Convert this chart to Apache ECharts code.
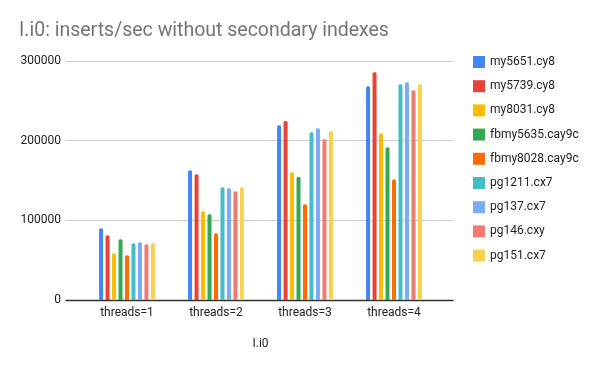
<!DOCTYPE html>
<html>
<head>
<meta charset="utf-8">
<script src="https://cdn.jsdelivr.net/npm/echarts@6/dist/echarts.min.js"></script>
<style>html,body{margin:0;padding:0;background:#fff}#c{width:600px;height:371px}</style>
</head>
<body>
<div id="c"></div>
<script>
var categories = ['threads=1', 'threads=2', 'threads=3', 'threads=4'];
var seriesNames = ['my5651.cy8', 'my5739.cy8', 'my8031.cy8', 'fbmy5635.cay9c', 'fbmy8028.cay9c', 'pg1211.cx7', 'pg137.cx7', 'pg146.cxy', 'pg151.cx7'];
var my5651 = [90000, 162800, 219300, 268200];
var my5739 = [81200, 157800, 224700, 285800];
var my8031 = [58600, 111300, 160300, 209200];
var fbmy5635 = [76200, 107600, 154400, 191700];
var fbmy8028 = [56100, 83700, 120100, 151500];
var pg1211 = [71200, 141500, 210500, 270700];
var pg137 = [72400, 140200, 215500, 273200];
var pg146 = [69900, 136400, 201700, 263200];
var pg151 = [71200, 141500, 211700, 270700];
var seriesValues = [my5651, my5739, my8031, fbmy5635, fbmy8028, pg1211, pg137, pg146, pg151];
var colors = ['#4285F4', '#EA4335', '#FBBC04', '#34A853', '#FF6D01', '#46BDC6', '#7BAAF7', '#F07B72', '#FCD04F'];
var yTicks = [0, 100000, 200000, 300000];

var font = 'Roboto, Arial, sans-serif';
var chart = echarts.init(document.getElementById('c'));
var series = seriesNames.map(function (n, i) {
  return {
    name: n, type: 'bar', xAxisIndex: 1, yAxisIndex: 1,
    data: seriesValues[i], barWidth: 4, barGap: '62%',
    itemStyle: { color: colors[i], borderRadius: [1.5, 1.5, 0, 0] }
  };
});
chart.setOption({
  animation: false,
  color: colors,
  title: {
    text: 'I.i0: inserts/sec without secondary indexes',
    left: 19, top: 21, padding: 0,
    textStyle: { fontFamily: font, fontSize: 19.5, fontWeight: 'normal', color: '#757575' }
  },
  legend: {
    orient: 'vertical', left: 473, top: 56, padding: 0,
    itemWidth: 12, itemHeight: 12, itemGap: 12.2, icon: 'rect',
    textStyle: { fontFamily: font, fontSize: 12, color: '#222' },
    data: seriesNames
  },
  grid: [
    { left: 66, right: 147, top: 61, bottom: 71 },
    { left: 82.5, right: 161.5, top: 61, bottom: 71 }
  ],
  xAxis: [
    { gridIndex: 0, type: 'value', min: 0, max: 1,
      axisLine: { show: true, lineStyle: { color: '#333', width: 1.3 } },
      axisTick: { show: false }, axisLabel: { show: false }, splitLine: { show: false } },
    { gridIndex: 1, type: 'category', data: categories,
      axisLine: { show: false }, axisTick: { show: false },
      axisLabel: { margin: 7, fontFamily: font, fontSize: 12, color: '#222' },
      name: 'I.i0', nameLocation: 'middle', nameGap: 38,
      nameTextStyle: { fontFamily: font, fontSize: 12, color: '#222' } }
  ],
  yAxis: [
    { gridIndex: 0, type: 'value', min: yTicks[0], max: yTicks[yTicks.length - 1], interval: 100000,
      axisLine: { show: false }, axisTick: { show: false },
      axisLabel: { margin: 5, fontFamily: font, fontSize: 12, color: '#222',
        formatter: function (v) { return String(v); } },
      splitLine: { lineStyle: { color: '#ccc' } } },
    { gridIndex: 1, type: 'value', min: yTicks[0], max: yTicks[yTicks.length - 1], interval: 100000, show: false,
      splitLine: { show: false } }
  ],
  series: series
});
</script>
</body>
</html>
